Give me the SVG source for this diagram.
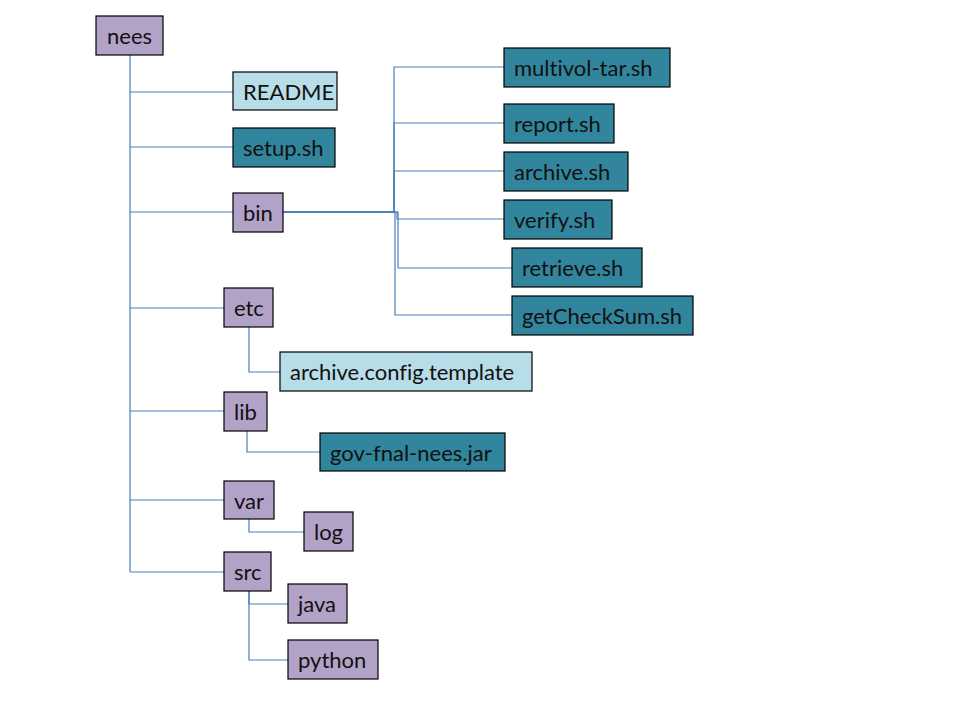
<svg xmlns="http://www.w3.org/2000/svg" width="960" height="720" viewBox="0 0 960 720">
<style>
.n rect{stroke:#000;stroke-width:1.2}
.p{fill:#b3a2c7}
.l{fill:#b7dde8}
.t{fill:#31859c}
text{font-family:Lato,"Liberation Sans",sans-serif;font-size:22px;fill:#111;font-variant-ligatures:none}
.c path{fill:none;stroke:#4a7ebb;stroke-width:1.2}
</style>
<rect width="960" height="720" fill="#fff"/>
<g class="c" id="connectors">
<path d="M130 55V572"/>
<path d="M130 92H233"/>
<path d="M130 147H233"/>
<path d="M130 212H233"/>
<path d="M130 308H224"/>
<path d="M130 411H224"/>
<path d="M130 500H224"/>
<path d="M130 572H224"/>
<path d="M283 212H394V67H504"/>
<path d="M283 212H394V123H504"/>
<path d="M283 212H394V171H504"/>
<path d="M283 212H397V219H504"/>
<path d="M283 212H398V268H512"/>
<path d="M283 212H395V315H512"/>
<path d="M249 327V372H280"/>
<path d="M247 431V452H320"/>
<path d="M249 519V532H304"/>
<path d="M249 591V604H288"/>
<path d="M249 591V660H288"/>
</g>
<g class="n">
<g id="nees"><rect class="p" x="96" y="16" width="67" height="39"/><text x="107" y="44">nees</text></g>
<g id="readme"><rect class="l" x="233" y="72" width="104" height="38"/><text x="243" y="100">README</text></g>
<g id="setup"><rect class="t" x="233" y="128" width="102" height="39"/><text x="243" y="156">setup.sh</text></g>
<g id="bin"><rect class="p" x="233" y="193" width="50" height="39"/><text x="243" y="221">bin</text></g>
<g id="multivol"><rect class="t" x="504" y="48" width="166" height="39"/><text x="514" y="76">multivol-tar.sh</text></g>
<g id="report"><rect class="t" x="504" y="104" width="110" height="39"/><text x="514" y="132">report.sh</text></g>
<g id="archive"><rect class="t" x="504" y="152" width="124" height="39"/><text x="514" y="180">archive.sh</text></g>
<g id="verify"><rect class="t" x="504" y="200" width="108" height="39"/><text x="514" y="228">verify.sh</text></g>
<g id="retrieve"><rect class="t" x="512" y="248" width="130" height="39"/><text x="522" y="276">retrieve.sh</text></g>
<g id="getchecksum"><rect class="t" x="512" y="296" width="181" height="39"/><text x="522" y="324">getCheckSum.sh</text></g>
<g id="etc"><rect class="p" x="224" y="288" width="49" height="39"/><text x="234" y="316">etc</text></g>
<g id="archiveconfig"><rect class="l" x="280" y="352" width="252" height="39"/><text x="290" y="380">archive.config.template</text></g>
<g id="lib"><rect class="p" x="224" y="392" width="43" height="39"/><text x="234" y="420">lib</text></g>
<g id="govjar"><rect class="t" x="320" y="433" width="185" height="38"/><text x="330" y="461">gov-fnal-nees.jar</text></g>
<g id="var"><rect class="p" x="224" y="481" width="50" height="38"/><text x="234" y="509">var</text></g>
<g id="log"><rect class="p" x="304" y="512" width="49" height="39"/><text x="314" y="540">log</text></g>
<g id="src"><rect class="p" x="224" y="552" width="47" height="39"/><text x="234" y="580">src</text></g>
<g id="java"><rect class="p" x="288" y="584" width="59" height="39"/><text x="298" y="612">java</text></g>
<g id="python"><rect class="p" x="288" y="640" width="90" height="39"/><text x="298" y="668">python</text></g>
</g>
</svg>
